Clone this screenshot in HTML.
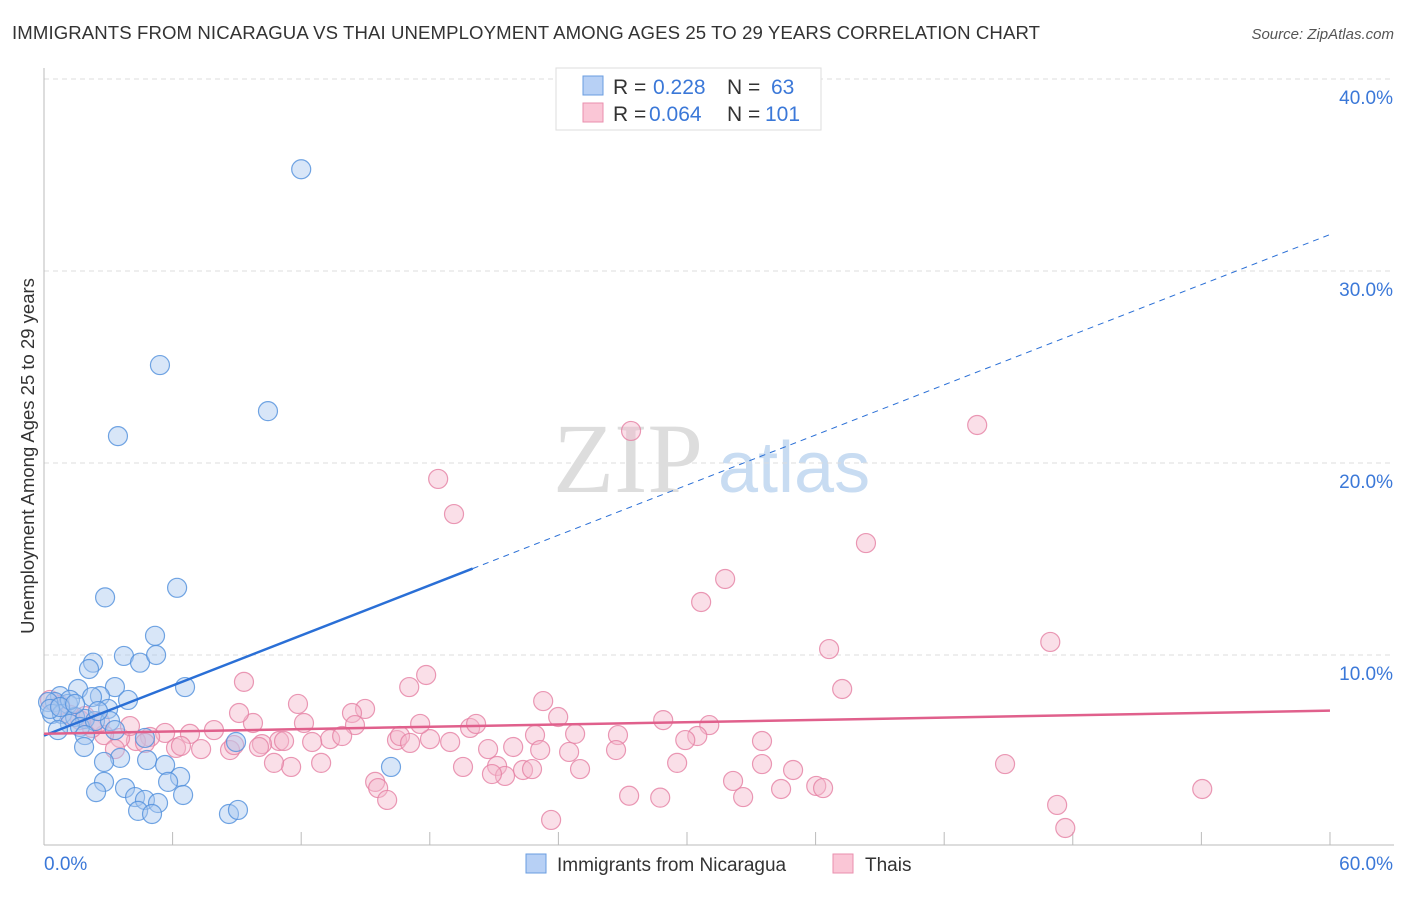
<!DOCTYPE html>
<html><head><meta charset="utf-8"><style>
body{margin:0;background:#fff;font-family:"Liberation Sans",sans-serif;}
svg text{font-family:"Liberation Sans",sans-serif;}
svg text.serif{font-family:"Liberation Serif",serif;}
</style></head><body>
<svg id="chart" width="1406" height="892" xmlns="http://www.w3.org/2000/svg">
<text x="12" y="39" font-size="18.6" fill="#333" textLength="1028">IMMIGRANTS FROM NICARAGUA VS THAI UNEMPLOYMENT AMONG AGES 25 TO 29 YEARS CORRELATION CHART</text>
<text x="1394" y="39" font-size="15" fill="#555" font-style="italic" text-anchor="end">Source: ZipAtlas.com</text>
<text x="34" y="456" font-size="18.5" fill="#333" text-anchor="middle" transform="rotate(-90 34 456)">Unemployment Among Ages 25 to 29 years</text>
<g><text class="serif" x="553" y="492" font-size="100" fill="#ddd">ZIP</text><text x="718" y="492" font-size="72" fill="#c8dcf2">atlas</text></g>
<g id="grid"></g><g id="axes"></g><g id="pts"></g><g id="lines"></g>
<g>
<rect x="556" y="68" width="265" height="62" fill="#fff" stroke="#ddd"/>
<rect x="583" y="76" width="20" height="19" fill="#b7d0f5" stroke="#6a9de0"/>
<rect x="583" y="103" width="20" height="19" fill="#fac6d6" stroke="#e98fae"/>
<text x="613" y="94" font-size="21" fill="#333">R = </text><text x="653" y="94" font-size="21" fill="#3b78d8">0.228</text>
<text x="727" y="94" font-size="21" fill="#333">N = </text><text x="771" y="94" font-size="21" fill="#3b78d8">63</text>
<text x="613" y="121" font-size="21" fill="#333">R = </text><text x="649" y="121" font-size="21" fill="#3b78d8">0.064</text>
<text x="727" y="121" font-size="21" fill="#333">N = </text><text x="765" y="121" font-size="21" fill="#3b78d8">101</text>
</g>
<g>
<rect x="526" y="854" width="20" height="19" fill="#b7d0f5" stroke="#6a9de0"/>
<text x="557" y="871" font-size="19" fill="#333">Immigrants from Nicaragua</text>
<rect x="833" y="854" width="20" height="19" fill="#fac6d6" stroke="#e98fae"/>
<text x="865" y="871" font-size="19" fill="#333">Thais</text>
</g>
</svg>
<script>
const blueX=[12.0,5.41,10.45,3.45,2.85,6.21,5.18,2.29,3.73,4.48,5.23,2.1,6.58,1.59,3.31,2.61,2.24,3.92,0.75,2.99,1.12,0.51,0.19,0.37,0.84,1.45,1.91,1.21,1.68,2.38,3.08,1.21,0.65,1.91,3.31,4.71,8.96,1.87,3.55,2.8,4.81,5.65,6.35,5.79,2.8,2.43,3.78,6.49,4.25,4.71,5.32,4.39,5.04,8.63,9.05,16.19,0.28,0.75,1.45,2.52];
const blueY=[35.3,25.1,22.7,21.4,13.0,13.5,11.0,9.6,9.95,9.6,10.0,9.27,8.33,8.23,8.33,7.86,7.81,7.66,7.86,7.19,7.45,7.55,7.55,6.93,6.93,6.77,6.67,6.41,6.25,6.56,6.56,7.66,6.09,5.83,6.09,5.68,5.47,5.21,4.64,4.43,4.53,4.27,3.65,3.39,3.39,2.86,3.07,2.71,2.6,2.45,2.29,1.88,1.72,1.72,1.93,4.17,7.19,7.29,7.45,7.08];
const pinkX=[27.39,43.54,18.39,19.13,38.35,31.78,30.66,46.95,36.63,37.24,9.33,17.83,17.04,11.85,14.98,14.37,23.29,23.99,28.89,31.04,30.48,29.92,12.13,9.75,9.1,7.93,6.81,5.65,4.95,4.29,3.55,2.8,2.24,1.68,1.21,0.28,13.35,12.51,10.97,10.17,11.2,14.51,16.47,18.01,17.55,19.88,20.16,18.95,20.72,21.89,22.91,23.15,24.78,25.01,24.5,26.78,26.69,29.54,33.5,33.5,34.95,32.15,34.39,32.62,36.03,36.35,27.3,28.75,21.14,22.35,21.51,20.9,19.55,22.77,15.45,15.59,16.01,12.93,11.53,10.73,7.33,6.16,4.71,3.31,23.66,44.84,47.27,47.65,54.04,0.75,1.91,2.61,4.01,6.39,8.68,10.03,13.91,16.61,17.08,8.87];
const pinkY=[21.67,21.98,19.17,17.34,15.83,13.96,12.76,10.68,10.31,8.23,8.6,8.96,8.33,7.45,7.19,6.98,7.6,6.77,6.61,6.35,5.78,5.57,6.46,6.46,6.98,6.09,5.89,5.94,5.73,5.52,5.68,5.83,6.2,6.61,6.88,7.66,5.62,5.47,5.52,5.36,5.52,6.35,5.57,5.62,6.41,6.2,6.41,5.47,5.1,5.21,5.83,5.05,5.89,4.06,4.95,5.83,5.05,4.38,5.52,4.32,4.01,3.44,3.02,2.6,3.18,3.07,2.67,2.57,4.22,4.01,3.7,3.8,4.17,4.06,3.39,3.07,2.45,4.38,4.17,4.38,5.1,5.16,5.42,5.1,1.41,4.32,2.19,0.99,3.02,7.4,6.82,6.51,6.3,5.26,5.05,5.21,5.78,5.78,5.42,5.31];
const yTicks=[10,20,30,40];
const xTickLabels=["0.0%","60.0%"];
const blueLine=[0,5.8,20,14.5];
const blueSlope=(14.5-5.8)/20;
const pinkLine=[0,5.9,60,7.1];
const NS="http://www.w3.org/2000/svg";
const sx=v=>44+v*21.433, sy=v=>847-v*19.2;
function mk(t,a,p){const e=document.createElementNS(NS,t);for(const k in a)e.setAttribute(k,a[k]);p.appendChild(e);return e;}
const grid=document.getElementById('grid'),axes=document.getElementById('axes'),pts=document.getElementById('pts'),lines=document.getElementById('lines');
yTicks.forEach(v=>{
 const l=mk('line',{x1:44,x2:1394,y1:sy(v),y2:sy(v),stroke:'#ddd','stroke-dasharray':'5,4'},grid);
 
 
 const t=mk('text',{x:1393,y:sy(v)+25,'font-size':19,fill:'#3b78d8','text-anchor':'end'},grid);
 t.textContent=v.toFixed(1)+'%';
 
 
});
mk('line',{x1:44,x2:44,y1:68,y2:845,stroke:'#bbb'},axes);
mk('line',{x1:44,x2:1394,y1:845,y2:845,stroke:'#bbb'},axes);
for(let i=1;i<=10;i++){const x=sx(i*6);const l=mk('line',{x1:x,x2:x,y1:832,y2:845,stroke:'#bbb'},axes);
 
 }
[[0,44,'start'],[60,1393,'end']].forEach((d,i)=>{const t=mk('text',{x:d[1],y:870,'font-size':19,fill:'#3b78d8','text-anchor':d[2]},axes);t.textContent=xTickLabels[i];
 
 });
function dots(X,Y,fill,stroke,name){X.forEach((x,i)=>{const c=mk('circle',{cx:sx(x),cy:sy(Y[i]),r:9.5,fill:fill,'fill-opacity':0.45,stroke:stroke,'stroke-width':1.2,'stroke-opacity':0.8},pts);
 
 });}
dots(pinkX,pinkY,'#f5b8cb','#e57fa2','thais-point');
dots(blueX,blueY,'#a8c8f0','#4f8fdc','nicaragua-point');
let l=mk('line',{x1:sx(blueLine[0]),y1:sy(blueLine[1]),x2:sx(blueLine[2]),y2:sy(blueLine[3]),stroke:'#2a6fd6','stroke-width':2.5},lines);


l=mk('line',{x1:sx(blueLine[2]),y1:sy(blueLine[3]),x2:sx(60),y2:sy(blueLine[1]+blueSlope*60),stroke:'#2a6fd6','stroke-width':1,'stroke-dasharray':'6,5'},lines);


l=mk('line',{x1:sx(pinkLine[0]),y1:sy(pinkLine[1]),x2:sx(pinkLine[2]),y2:sy(pinkLine[3]),stroke:'#e0608c','stroke-width':2.5},lines);


</script>
</body></html>
